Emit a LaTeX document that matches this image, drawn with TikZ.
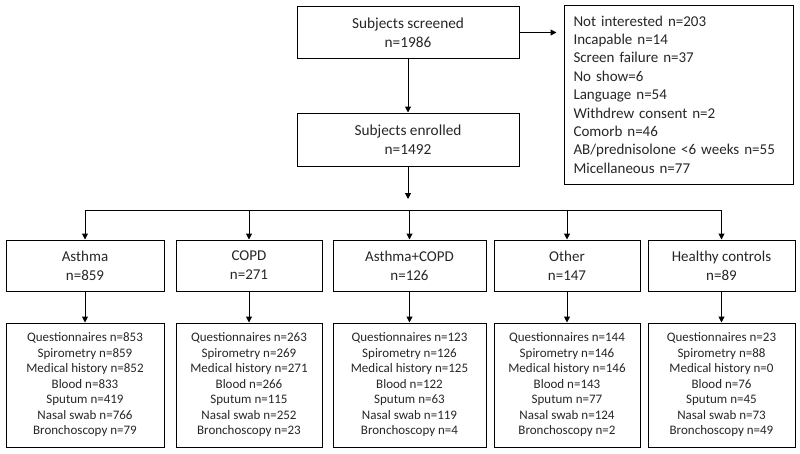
\documentclass[tikz,border=0pt]{standalone}
\usepackage{fontspec}
\setmainfont{Carlito}
\usepackage{tikz}
\usetikzlibrary{arrows.meta,positioning,calc}

\begin{document}
\begin{tikzpicture}[x=1pt, y=-1pt,
  topbox/.style={draw, line width=1pt, minimum width=222pt, minimum height=52pt,
    font=\fontsize{15.3}{19.5}\selectfont, align=center, text=black!85},
  exclbox/.style={draw, line width=1pt, minimum width=229pt, minimum height=179pt,
    text width=210pt, inner xsep=9.5pt, font=\fontsize{15}{18.4}\selectfont,
    align=left, text=black!85},
  grpbox/.style={draw, line width=1pt, minimum width=#1, minimum height=51pt,
    font=\fontsize{15}{19}\selectfont, align=center, text=black!85},
  databox/.style={draw, line width=1pt, minimum width=#1, minimum height=124pt,
    font=\fontsize{13}{15.5}\selectfont, align=center, text=black!85},
  arr/.style={-{Triangle[length=6pt, width=6pt]}, line width=1pt},
]
  \useasboundingbox (0,0) rectangle (800,453);

  % screening
  \node[topbox] (scr) at (408,32.5) {Subjects screened\\n=1986};
  \node[topbox, minimum height=53pt] (enr) at (408,139.5) {Subjects enrolled\\n=1492};
  \node[exclbox] (excl) at (678.5,94.5)
    {Not interested n=203\\Incapable n=14\\Screen failure n=37\\No show=6\\
     Language n=54\\Withdrew consent n=2\\Comorb n=46\\
     AB/prednisolone <6 weeks n=55\\Micellaneous n=77};

  % groups
  \node[grpbox=158pt] (asth) at (85,265.5)    {Asthma\\n=859};
  \node[grpbox=146pt] (copd) at (249,265.5)   {COPD\\n=271};
  \node[grpbox=153pt] (acos) at (409.5,265.5) {Asthma+COPD\\n=126};
  \node[grpbox=146pt] (oth)  at (567,265.5)   {Other\\n=147};
  \node[grpbox=147pt] (hc)   at (721.5,265.5) {Healthy controls\\n=89};

  % samples
  \node[databox=158pt] (asthd) at (85,385)
    {Questionnaires n=853\\Spirometry n=859\\Medical history n=852\\Blood n=833\\
     Sputum n=419\\Nasal swab n=766\\Bronchoscopy n=79};
  \node[databox=146pt] (copdd) at (249,385)
    {Questionnaires n=263\\Spirometry n=269\\Medical history n=271\\Blood n=266\\
     Sputum n=115\\Nasal swab n=252\\Bronchoscopy n=23};
  \node[databox=153pt] (acosd) at (409.5,385)
    {Questionnaires n=123\\Spirometry n=126\\Medical history n=125\\Blood n=122\\
     Sputum n=63\\Nasal swab n=119\\Bronchoscopy n=4};
  \node[databox=146pt] (othd) at (567,385)
    {Questionnaires n=144\\Spirometry n=146\\Medical history n=146\\Blood n=143\\
     Sputum n=77\\Nasal swab n=124\\Bronchoscopy n=2};
  \node[databox=147pt] (hcd) at (721.5,385)
    {Questionnaires n=23\\Spirometry n=88\\Medical history n=0\\Blood n=76\\
     Sputum n=45\\Nasal swab n=73\\Bronchoscopy n=49};

  \coordinate (split) at (408,199);
  \coordinate (bus) at (0,210);

  \draw[arr] (scr) -- (enr);
  \draw[arr, shorten >=7pt] (scr.east) -- (excl.west |- scr.east);
  \draw[arr] (enr) -- (split);
  \draw[line width=1pt] (asth |- bus) -- (hc |- bus);
  \foreach \g in {asth,copd,acos,oth,hc} {
    \draw[arr] (\g |- bus) -- (\g);
    \draw[arr] (\g) -- (\g d);
  }
\end{tikzpicture}
\end{document}
